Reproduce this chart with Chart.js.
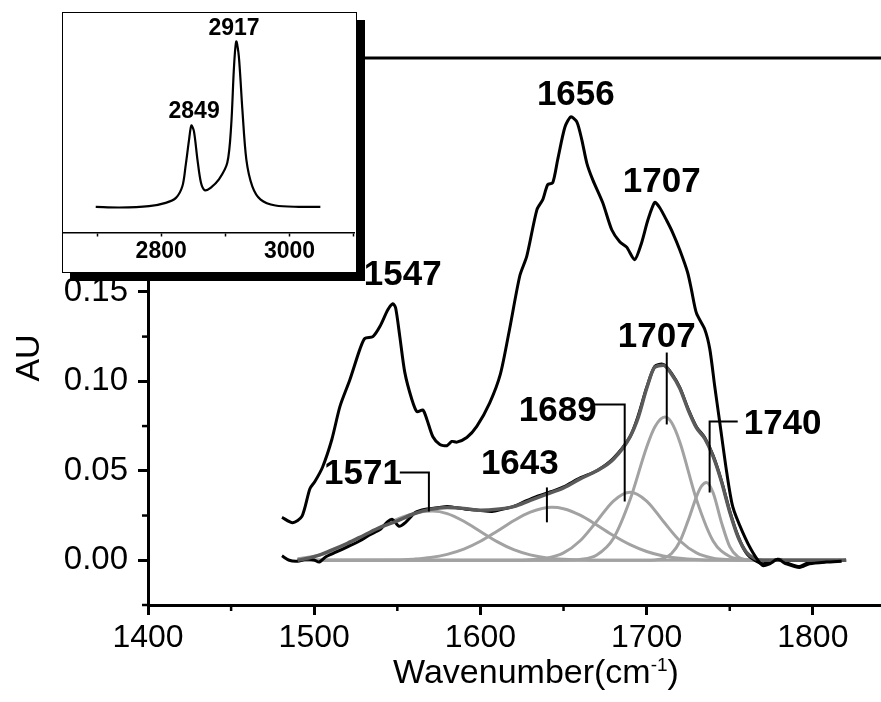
<!DOCTYPE html>
<html>
<head>
<meta charset="utf-8">
<script src="https://cdn.jsdelivr.net/npm/chart.js@4.4.0/dist/chart.umd.min.js"></script>
<style>
  html, body { margin: 0; padding: 0; background: #fff; }
  #wrap { position: relative; width: 881px; height: 702px; overflow: hidden; }
  #grafico { position: absolute; left: 0; top: 0; }
  #inset { position: absolute; left: 62px; top: 12px; width: 295px; height: 261px; box-sizing: border-box;
           border: 1.5px solid #000; background: #fff; box-shadow: 8px 8px 0 #000; }
  #graficoInset { display: block; }
</style>
</head>
<body>
<div id="wrap">
  <canvas id="grafico" width="881" height="702"></canvas>
  <div id="inset"><canvas id="graficoInset" width="292" height="258"></canvas></div>
</div>
<script>
// Espectro superior (negro)
const topX = [1480.6, 1487, 1492.6, 1497.4, 1500.4, 1505, 1510.6, 1515.5, 1521.5, 1527.5, 1530.5, 1535.3, 1539.5, 1544.3, 1547.3, 1549, 1551.5, 1554.5, 1558.7, 1561.8, 1565.4, 1567.8, 1571.4, 1575.6, 1579.8, 1582.8, 1585.8, 1591.8, 1597.8, 1605.6, 1612, 1617.5, 1623.7, 1627.9, 1634, 1637.5, 1640.5, 1643.5, 1646.5, 1650.8, 1654.4, 1658, 1661, 1664, 1667.6, 1673.6, 1679, 1683.8, 1688, 1692.8, 1697, 1700.7, 1704.9, 1707.9, 1712, 1715.7, 1719.9, 1724.7, 1727, 1730, 1735, 1738, 1741, 1744, 1748.2, 1751.8, 1757.8, 1763.8, 1769.8, 1774, 1778.8, 1784, 1792, 1798, 1808, 1817.3]
const topY = [0.024, 0.021, 0.0245, 0.040, 0.044, 0.052, 0.0675, 0.086, 0.101, 0.118, 0.124, 0.125, 0.1306, 0.140, 0.1434, 0.141, 0.125, 0.105, 0.090, 0.083, 0.084, 0.0787, 0.069, 0.0647, 0.064, 0.0664, 0.066, 0.0686, 0.0748, 0.088, 0.104, 0.129, 0.159, 0.170, 0.196, 0.2015, 0.210, 0.211, 0.224, 0.242, 0.2478, 0.245, 0.235, 0.222, 0.2126, 0.1998, 0.1847, 0.178, 0.175, 0.168, 0.1775, 0.190, 0.200, 0.197, 0.190, 0.183, 0.1735, 0.1607, 0.151, 0.138, 0.129, 0.118, 0.097, 0.077, 0.049, 0.030, 0.0156, 0.0045, -0.003, -0.002, 0.0005, -0.002, -0.004, -0.002, -0.001, -0.0005]

// Espectro inferior (negro, debajo del ajuste)
const rawX = [1480.6, 1485, 1490, 1495, 1500, 1503, 1507, 1513, 1520, 1527, 1533, 1540, 1544, 1547, 1551, 1555, 1561, 1567, 1575, 1580, 1586, 1592, 1600, 1607, 1613, 1620, 1627, 1634, 1643, 1650, 1660, 1670, 1680, 1690, 1695, 1700, 1705, 1710, 1715, 1720, 1725, 1730, 1735, 1740, 1745, 1750, 1755, 1760, 1765, 1770, 1775, 1780, 1786, 1792, 1797, 1805, 1812, 1820]
const rawY = [0.0025, 0.0000, -0.0005, 0.0005, 0.0002, -0.001, 0.002, 0.0045, 0.0075, 0.0106, 0.014, 0.0175, 0.0215, 0.0229, 0.019, 0.0212, 0.0268, 0.0285, 0.0295, 0.0301, 0.0293, 0.0285, 0.0278, 0.0273, 0.0285, 0.0301, 0.033, 0.0357, 0.0385, 0.041, 0.046, 0.050, 0.057, 0.069, 0.081, 0.0965, 0.1085, 0.1095, 0.1045, 0.0965, 0.0845, 0.0745, 0.0685, 0.0585, 0.0445, 0.0275, 0.0135, 0.004, 0.0000, -0.002, -0.0005, 0.0005, -0.002, -0.0035, -0.0015, -0.001, -0.0005, 0.0000]

// Suma del ajuste (gris oscuro)
const fitX = [1490, 1500, 1510, 1520, 1530, 1540, 1550, 1560, 1570, 1580, 1590, 1600, 1610, 1620, 1630, 1640, 1650, 1660, 1670, 1680, 1690, 1695, 1700, 1705, 1710, 1715, 1720, 1725, 1730, 1735, 1740, 1745, 1750, 1755, 1760, 1765, 1770, 1820]
const fitY = [0.0000, 0.0020, 0.0055, 0.0095, 0.0140, 0.0185, 0.0220, 0.0260, 0.0285, 0.0295, 0.0290, 0.0280, 0.0285, 0.0300, 0.0335, 0.0370, 0.0405, 0.0455, 0.0500, 0.0565, 0.0690, 0.0800, 0.0960, 0.1080, 0.1090, 0.1040, 0.0960, 0.0840, 0.0740, 0.0680, 0.0580, 0.0440, 0.0270, 0.0130, 0.0045, 0.0010, 0.0000, 0.0000]

// Componentes gaussianas (gris claro)
const c1571X = [1490, 1500, 1510, 1520, 1530, 1540, 1550, 1560, 1571, 1580, 1590, 1600, 1610, 1620, 1630, 1640, 1650, 1660, 1670, 1820]
const c1571Y = [0.0008, 0.0022, 0.0048, 0.0092, 0.0139, 0.0186, 0.0230, 0.0262, 0.0275, 0.0261, 0.0218, 0.0161, 0.0104, 0.0059, 0.0030, 0.0013, 0.0005, 0.0002, 0, 0]
const c1643X = [1490, 1550, 1560, 1570, 1580, 1590, 1600, 1610, 1620, 1630, 1643, 1650, 1660, 1670, 1680, 1690, 1700, 1710, 1720, 1730, 1740, 1820]
const c1643Y = [0, 0.0001, 0.0006, 0.0015, 0.0033, 0.0062, 0.0106, 0.0162, 0.0221, 0.0269, 0.0296, 0.0288, 0.0252, 0.0197, 0.0138, 0.0087, 0.0049, 0.0024, 0.0011, 0.0004, 0.0001, 0]
const c1689X = [1490, 1620, 1630, 1640, 1650, 1660, 1670, 1680, 1690, 1700, 1710, 1720, 1730, 1740, 1750, 1760, 1820]
const c1689Y = [0, 0, 0.0003, 0.0012, 0.0041, 0.0109, 0.0218, 0.0331, 0.0380, 0.0331, 0.0218, 0.0109, 0.0041, 0.0012, 0.0003, 0, 0]
const c1707X = [1490, 1650, 1660, 1670, 1680, 1690, 1700, 1705, 1711, 1715, 1720, 1730, 1740, 1750, 1760, 1770, 1820]
const c1707Y = [0, 0, 0.0005, 0.0030, 0.0122, 0.0338, 0.0632, 0.0746, 0.0800, 0.0770, 0.0660, 0.0339, 0.0108, 0.0021, 0.0003, 0, 0]
const c1740X = [1490, 1700, 1705, 1710, 1715, 1720, 1725, 1730, 1733, 1736, 1740, 1745, 1750, 1755, 1760, 1765, 1820]
const c1740Y = [0, 0, 0.0002, 0.0010, 0.0038, 0.0105, 0.0223, 0.0356, 0.0414, 0.0435, 0.0377, 0.0212, 0.0076, 0.0018, 0.0003, 0, 0]

// Ticks de los ejes
const ticksX = [1400, 1500, 1600, 1700, 1800]
const menoresX = [1450, 1550, 1650, 1750]
const ticksY = [0, 0.05, 0.10, 0.15, 0.20, 0.25]
const menoresY = [-0.025, 0.025, 0.075, 0.125, 0.175, 0.225, 0.275]

// Etiquetas de picos (x centro, y base del texto)
const etiquetasTexto = ['1547', '1656', '1707', '1707', '1740', '1689', '1643', '1571']
const etiquetasX = [1553.3, 1657.4, 1709.1, 1706.1, 1781.8, 1646.5, 1623.7, 1529.3]
const etiquetasY = [0.154, 0.2545, 0.206, 0.1194, 0.0703, 0.0781, 0.048, 0.0424]

// Lineas guia de las etiquetas
const guiasX = [[1551.5, 1569, 1569], [1640, 1640], [1667.6, 1686.8, 1686.8], [1712.1, 1712.1], [1754.8, 1737.9, 1737.9]]
const guiasY = [[0.0491, 0.0491, 0.0273], [0.0407, 0.0212], [0.0871, 0.0871, 0.0329], [0.1161, 0.0759], [0.0776, 0.0776, 0.0379]]

// Recuadro: region C-H
const insetX = [2698, 2735, 2781, 2807, 2823, 2833, 2838, 2843.5, 2847, 2851, 2856.5, 2862, 2868, 2877, 2890, 2903, 2909, 2913.5, 2917, 2921, 2926.5, 2932.7, 2942, 2955, 2978, 3015, 3048]
const insetY = [0.004, 0, 0.008, 0.028, 0.058, 0.128, 0.249, 0.41, 0.494, 0.46, 0.289, 0.149, 0.104, 0.119, 0.169, 0.269, 0.49, 0.851, 1.0, 0.911, 0.59, 0.289, 0.128, 0.048, 0.012, 0.004, 0.004]
const ticksInsetX = [2700, 2800, 2900, 3000, 3100]
const etiquetasInsetTexto = ['2849', '2917']
const etiquetasInsetX = [2851.3, 2913.5]
const etiquetasInsetY = [0.542, 1.042]

const fuente = '"Liberation Sans", Arial, sans-serif'

const puntos = (xs, ys) => xs.map((v, i) => ({ x: v, y: ys[i] }))

const componente = (xs, ys) => ({
    data: puntos(xs, ys),
    borderColor: '#a2a2a2',
    borderWidth: 3,
    cubicInterpolationMode: 'monotone',
    order: 5
})

const decoracion = {
    id: 'decoracion',
    afterDatasetsDraw(chart) {
        const { ctx, chartArea, scales: { x, y } } = chart
        ctx.save()
        ctx.strokeStyle = '#000'
        ctx.fillStyle = '#000'

        // linea superior del marco
        ctx.lineWidth = 3
        ctx.beginPath()
        ctx.moveTo(chartArea.left - 1.5, chartArea.top)
        ctx.lineTo(chartArea.right, chartArea.top)
        ctx.stroke()

        // ticks menores
        ctx.lineWidth = 2.5
        menoresX.forEach((v) => {
            const px = x.getPixelForValue(v)
            ctx.beginPath()
            ctx.moveTo(px, chartArea.bottom)
            ctx.lineTo(px, chartArea.bottom + 6)
            ctx.stroke()
        })
        menoresY.forEach((v) => {
            const py = y.getPixelForValue(v)
            ctx.beginPath()
            ctx.moveTo(chartArea.left, py)
            ctx.lineTo(chartArea.left - 6, py)
            ctx.stroke()
        })

        // guias
        ctx.lineWidth = 2
        guiasX.forEach((gx, i) => {
            ctx.beginPath()
            gx.forEach((v, j) => {
                const px = x.getPixelForValue(v)
                const py = y.getPixelForValue(guiasY[i][j])
                if (j === 0) ctx.moveTo(px, py)
                else ctx.lineTo(px, py)
            })
            ctx.stroke()
        })

        // etiquetas de picos
        ctx.font = 'bold 35px ' + fuente
        ctx.textAlign = 'center'
        ctx.textBaseline = 'alphabetic'
        etiquetasTexto.forEach((t, i) => {
            ctx.fillText(t, x.getPixelForValue(etiquetasX[i]), y.getPixelForValue(etiquetasY[i]))
        })

        // titulo eje y
        ctx.save()
        ctx.translate(30, 358)
        ctx.rotate(-Math.PI / 2)
        ctx.font = '34px ' + fuente
        ctx.textBaseline = 'middle'
        ctx.fillText('AU', 0, 0)
        ctx.restore()

        // titulo eje x con superindice
        const parte1 = 'Wavenumber(cm'
        const sup = '-1'
        const parte2 = ')'
        ctx.font = '34px ' + fuente
        const w1 = ctx.measureText(parte1).width
        const w3 = ctx.measureText(parte2).width
        ctx.font = '19px ' + fuente
        const w2 = ctx.measureText(sup).width
        let xi = 536 - (w1 + w2 + w3) / 2
        ctx.textAlign = 'left'
        ctx.font = '34px ' + fuente
        ctx.fillText(parte1, xi, 683)
        xi += w1
        ctx.font = '19px ' + fuente
        ctx.fillText(sup, xi, 671)
        xi += w2
        ctx.font = '34px ' + fuente
        ctx.fillText(parte2, xi, 683)

        ctx.restore()
    }
}

const config = {
    type: 'line',
    data: {
        datasets: [
            {
                data: puntos(topX, topY),
                borderColor: '#000',
                borderWidth: 3,
                tension: 0.25,
                order: 1
            },
            {
                data: puntos(fitX, fitY),
                borderColor: '#5a5a5a',
                borderWidth: 3.5,
                cubicInterpolationMode: 'monotone',
                order: 3
            },
            {
                data: puntos(rawX, rawY),
                borderColor: '#000',
                borderWidth: 3,
                tension: 0.25,
                order: 4
            },
            componente(c1571X, c1571Y),
            componente(c1643X, c1643Y),
            componente(c1689X, c1689Y),
            componente(c1707X, c1707Y),
            componente(c1740X, c1740Y)
        ]
    },
    options: {
        responsive: false,
        animation: false,
        events: [],
        layout: { padding: { top: 58, right: 0, bottom: 0, left: 0 } },
        elements: { point: { radius: 0 } },
        plugins: {
            legend: { display: false },
            tooltip: { enabled: false }
        },
        scales: {
            x: {
                type: 'linear',
                min: 1400,
                max: 1841,
                afterFit: (s) => { s.height = 97 },
                afterBuildTicks: (s) => { s.ticks = ticksX.map((v) => ({ value: v })) },
                grid: { drawOnChartArea: false, tickLength: 10, tickWidth: 3, tickColor: '#000' },
                border: { display: true, color: '#000', width: 3 },
                ticks: {
                    color: '#000',
                    padding: 4,
                    maxRotation: 0,
                    autoSkip: false,
                    font: { family: fuente, size: 32 },
                    callback: (v) => String(v)
                }
            },
            y: {
                type: 'linear',
                min: -0.025,
                max: 0.2807,
                afterFit: (s) => { s.width = 148 },
                afterBuildTicks: (s) => { s.ticks = ticksY.map((v) => ({ value: v })) },
                grid: { drawOnChartArea: false, tickLength: 10, tickWidth: 3, tickColor: '#000' },
                border: { display: true, color: '#000', width: 3 },
                ticks: {
                    color: '#000',
                    padding: 10,
                    font: { family: fuente, size: 33 },
                    callback: (v) => v.toFixed(2)
                }
            }
        }
    },
    plugins: [decoracion]
}

new Chart(document.getElementById('grafico').getContext('2d'), config)

// Recuadro
const decoracionInset = {
    id: 'decoracionInset',
    afterDatasetsDraw(chart) {
        const { ctx, scales: { x, y } } = chart
        ctx.save()
        ctx.fillStyle = '#000'
        ctx.font = 'bold 23px ' + fuente
        ctx.textAlign = 'center'
        ctx.textBaseline = 'alphabetic'
        etiquetasInsetTexto.forEach((t, i) => {
            ctx.fillText(t, x.getPixelForValue(etiquetasInsetX[i]), y.getPixelForValue(etiquetasInsetY[i]))
        })
        ctx.restore()
    }
}

const configInset = {
    type: 'line',
    data: {
        datasets: [{
            data: puntos(insetX, insetY),
            borderColor: '#000',
            borderWidth: 2.2,
            tension: 0.3
        }]
    },
    options: {
        responsive: false,
        animation: false,
        events: [],
        layout: { padding: 0 },
        elements: { point: { radius: 0 } },
        plugins: {
            legend: { display: false },
            tooltip: { enabled: false }
        },
        scales: {
            x: {
                type: 'linear',
                min: 2647,
                max: 3102,
                afterFit: (s) => { s.height = 38.5 },
                afterBuildTicks: (s) => { s.ticks = ticksInsetX.map((v) => ({ value: v })) },
                grid: { drawOnChartArea: false, tickLength: 4, tickWidth: 1.5, tickColor: '#000' },
                border: { display: true, color: '#000', width: 1.5 },
                ticks: {
                    color: '#000',
                    padding: 1,
                    maxRotation: 0,
                    autoSkip: false,
                    font: { family: fuente, size: 23, weight: 'bold' },
                    callback: (v) => (v === 2800 || v === 3000) ? String(v) : ''
                }
            },
            y: { display: false, min: -0.1506, max: 1.172 }
        }
    },
    plugins: [decoracionInset]
}

new Chart(document.getElementById('graficoInset').getContext('2d'), configInset)
</script>
</body>
</html>
